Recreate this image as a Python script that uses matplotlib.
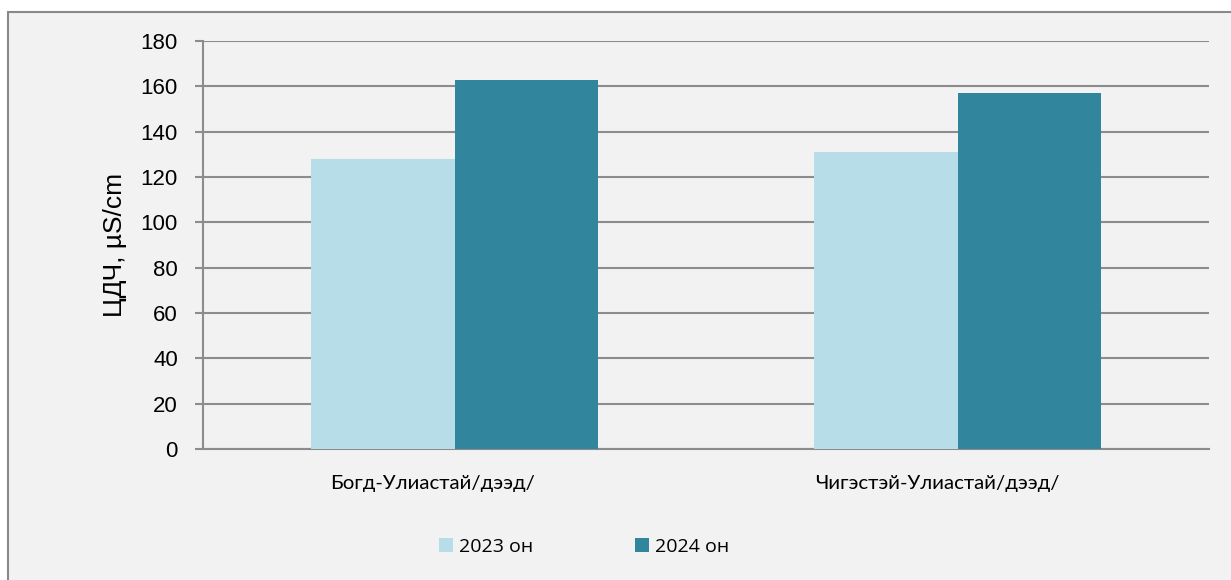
import matplotlib.pyplot as plt
from matplotlib.patches import Rectangle, Patch
import numpy as np

categories = ["Богд-Улиастай/дээд/", "Чигэстэй-Улиастай/дээд/"]
series_names = ["2023 он", "2024 он"]
values_2023 = [128, 131]
values_2024 = [163, 157]

light = "#B7DDE8"
dark = "#31859C"
grid_c = "#8C8C8C"
bg = "#F2F2F2"

fig = plt.figure(figsize=(12.31, 5.80), dpi=100)
fig.patch.set_facecolor("white")

# chart frame (cut off at right and bottom like the source)
frame = Rectangle((8 / 1231, -0.1), 1.2, 1 - 12 / 580 + 0.1,
                  transform=fig.transFigure, facecolor=bg,
                  edgecolor="#898989", linewidth=1.5, zorder=-10)
fig.patches.append(frame)

ax = fig.add_axes([203 / 1231, 1 - 449 / 580, (1209 - 203) / 1231, (449 - 41) / 580])
ax.patch.set_alpha(0)

x = np.arange(len(categories))
w = 1 / 3.5
ax.bar(x - w / 2, values_2023, width=w, color=light, zorder=3)
ax.bar(x + w / 2, values_2024, width=w, color=dark, zorder=3)

ax.set_xlim(-0.5, len(categories) - 0.5)
ax.set_ylim(0, 180)
ax.set_yticks(np.arange(0, 181, 20))
ax.yaxis.grid(True, color=grid_c, linewidth=1.5, zorder=1)
ax.set_axisbelow(True)

for s in ["top", "right"]:
    ax.spines[s].set_visible(False)
for s in ["left", "bottom"]:
    ax.spines[s].set_color(grid_c)
    ax.spines[s].set_linewidth(1.5)

ax.tick_params(axis="y", length=6, width=1.5, color=grid_c, pad=12,
               labelsize=16, labelcolor="black")
for lbl in ax.get_yticklabels():
    lbl.set_family("Liberation Sans")

# category labels: the source sits them a little left of the bar groups
ax.set_xticks(x)
ax.set_xticklabels([])
ax.tick_params(axis="x", length=0)
label_shift = [-22, -20]
for xi, name, dx in zip(x, categories, label_shift):
    ax.annotate(name, xy=(xi, 0), xycoords=("data", "axes fraction"),
                xytext=(dx, -35), textcoords="offset pixels",
                ha="center", va="center", family="Lato", fontsize=14.7)

ax.set_ylabel("ЦДЧ, µS/cm", family="Liberation Sans", fontsize=19, labelpad=10)

handles = [Patch(facecolor=light, label=series_names[0]),
           Patch(facecolor=dark, label=series_names[1])]
fig.legend(handles=handles, loc="center", bbox_to_anchor=(584 / 1231, 1 - 547 / 580),
           ncol=2, frameon=False, handlelength=0.75, handleheight=0.75,
           handletextpad=0.3, columnspacing=5.2,
           prop={"family": "Open Sans", "size": 14})

fig.savefig("out.png", dpi=100, facecolor="white")
